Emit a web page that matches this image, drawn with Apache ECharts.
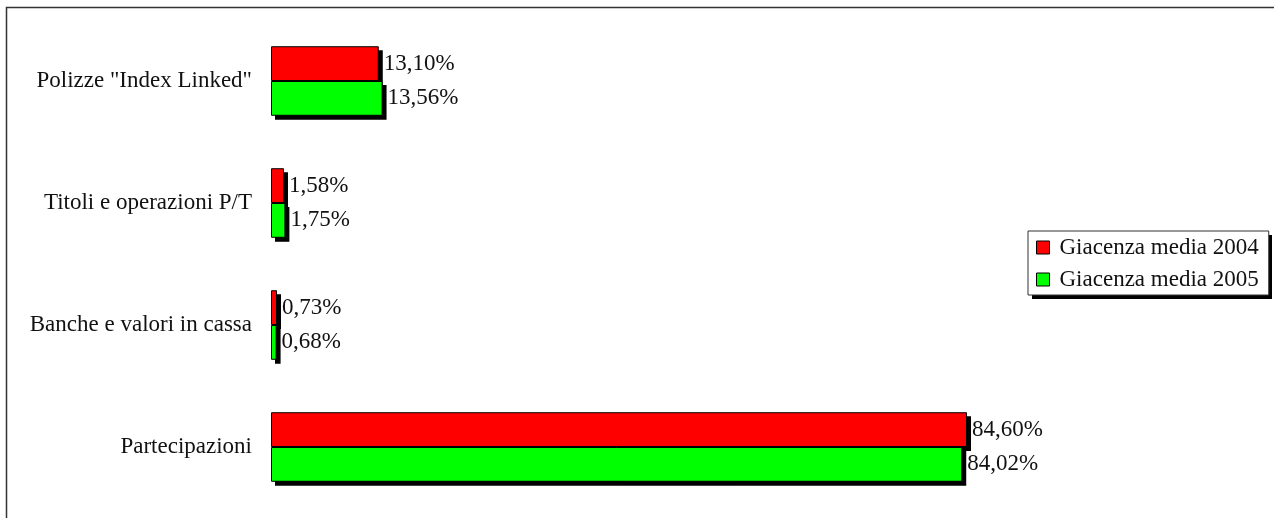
<!DOCTYPE html>
<html>
<head>
<meta charset="utf-8">
<script src="https://cdn.jsdelivr.net/npm/echarts@6/dist/echarts.min.js"></script>
<style>html,body{margin:0;padding:0;background:#fff;}#c{width:1274px;height:518px;}</style>
</head>
<body>
<div id="c"></div>
<script>
const categories = ['Polizze "Index Linked"', 'Titoli e operazioni P/T', 'Banche e valori in cassa', 'Partecipazioni'];
const seriesNames = ['Giacenza media 2004', 'Giacenza media 2005'];
const values2004 = [13.10, 1.58, 0.73, 84.60];
const values2005 = [13.56, 1.75, 0.68, 84.02];

const FONT = '"Liberation Serif", "Times New Roman", serif';
const FS = 23;
const fmt = v => v.toFixed(2).replace('.', ',') + '%';

const chart = echarts.init(document.getElementById('c'), null, {renderer: 'canvas'});
const labelStyle = {
  show: true,
  position: 'right',
  distance: 5,
  color: '#111',
  fontFamily: FONT,
  fontSize: FS,
  formatter: p => fmt(p.value)
};
const SH = 4; // shadow offset
const gridBase = {left: 271, top: 20, bottom: 10, width: 822.7, containLabel: false};
const catAxis = (gi, show) => ({
  type: 'category', gridIndex: gi, inverse: true, data: categories, show: show,
  axisLine: {show: false}, axisTick: {show: false}, splitLine: {show: false},
  axisLabel: {fontFamily: FONT, fontSize: FS, color: '#111', margin: 19}
});
const shadowSeries = (name, data) => ({
  name: name, type: 'bar', xAxisIndex: 1, yAxisIndex: 1, data: data, z: 1,
  barGap: '0%', barCategoryGap: '43%', silent: true,
  itemStyle: {color: '#000'}, label: {show: false}
});
chart.setOption({
  animation: false,
  backgroundColor: '#fff',
  textStyle: {fontFamily: FONT},
  graphic: [{
    type: 'rect', z: 0, silent: true,
    shape: {x: 6.5, y: 7.5, width: 1400, height: 600},
    style: {fill: 'none', stroke: '#333', lineWidth: 1.5}
  }, {
    type: 'rect', z: 1, silent: true,
    shape: {x: 1032, y: 235, width: 240, height: 64},
    style: {fill: '#000'}
  }],
  grid: [
    gridBase,
    {left: 271 + SH, top: 20 + SH, bottom: 10 - SH, width: 822.7, containLabel: false}
  ],
  xAxis: [
    {type: 'value', min: 0, max: 100, show: false, gridIndex: 0},
    {type: 'value', min: 0, max: 100, show: false, gridIndex: 1}
  ],
  yAxis: [catAxis(0, true), catAxis(1, false)],
  legend: {
    z: 5,
    orient: 'vertical',
    left: 1028,
    top: 231,
    data: seriesNames,
    padding: [5, 10, 4, 8],
    itemGap: 9,
    itemWidth: 13,
    itemHeight: 13,
    icon: 'rect',
    backgroundColor: '#fff',
    borderColor: '#333',
    borderWidth: 1,
    itemStyle: {borderColor: '#000', borderWidth: 1},
    textStyle: {fontFamily: FONT, fontSize: FS, color: '#111', padding: [0, 0, 0, 5]}
  },
  series: [
    shadowSeries('s2004', values2004),
    shadowSeries('s2005', values2005),
    {name: seriesNames[0], type: 'bar', data: values2004, z: 3, barGap: '0%', barCategoryGap: '43%',
     itemStyle: {color: '#ff0000', borderColor: '#000', borderWidth: 1}, label: labelStyle},
    {name: seriesNames[1], type: 'bar', data: values2005, z: 3, barGap: '0%', barCategoryGap: '43%',
     itemStyle: {color: '#00ff00', borderColor: '#000', borderWidth: 1}, label: labelStyle}
  ]
});
</script>
</body>
</html>
